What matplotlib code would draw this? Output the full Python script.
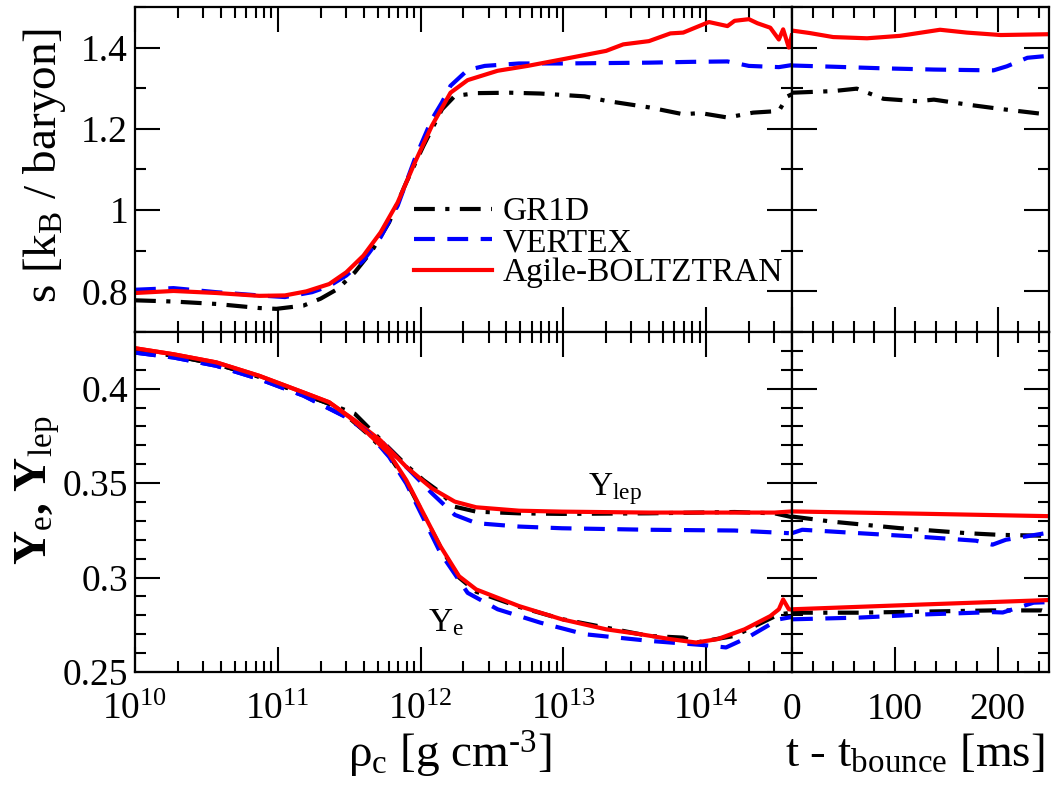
import numpy as np
import matplotlib
matplotlib.use("Agg")
import matplotlib.pyplot as plt
from matplotlib.ticker import LogLocator, MultipleLocator, FuncFormatter, NullFormatter

plt.rcParams['font.family'] = ['Liberation Serif', 'DejaVu Serif']
plt.rcParams['mathtext.fontset'] = 'custom'
plt.rcParams['mathtext.rm'] = 'Liberation Serif'
plt.rcParams['mathtext.it'] = 'Liberation Serif:italic'

# ---- entropy vs central density (log10 rho_c) ----
lrho_ab_s = [10.0, 10.27, 10.57, 10.87, 11.05, 11.2, 11.36, 11.48, 11.6, 11.72, 11.84, 11.96, 12.08, 12.21,
             12.33, 12.54, 12.75, 12.99, 13.3, 13.42, 13.6, 13.75, 13.84, 14.02, 14.15, 14.2, 14.3, 14.36,
             14.45, 14.51, 14.54, 14.58, 14.6]
s_ab = [0.796, 0.801, 0.796, 0.789, 0.790, 0.800, 0.818, 0.847, 0.888, 0.945, 1.019, 1.117, 1.208, 1.289,
        1.32, 1.343, 1.355, 1.371, 1.392, 1.408, 1.416, 1.435, 1.437, 1.463, 1.453, 1.466, 1.47, 1.46,
        1.449, 1.42, 1.445, 1.40, 1.43]
lrho_vx_s = [10.0, 10.27, 10.57, 10.87, 11.05, 11.24, 11.36, 11.48, 11.6, 11.72, 11.84, 11.96, 12.08, 12.15,
             12.21, 12.33, 12.45, 12.69, 12.99, 13.3, 13.6, 13.9, 14.15, 14.3, 14.51, 14.6]
s_vx = [0.804, 0.808, 0.798, 0.79, 0.786, 0.798, 0.813, 0.839, 0.876, 0.933, 1.011, 1.126, 1.224, 1.265,
        1.306, 1.345, 1.355, 1.361, 1.361, 1.362, 1.363, 1.365, 1.366, 1.355, 1.352, 1.357]
lrho_gr_s = [10.0, 10.27, 10.57, 10.87, 10.99, 11.18, 11.3, 11.42, 11.54, 11.66, 11.78, 11.9, 12.02, 12.15,
             12.24, 12.39, 12.63, 12.84, 13.15, 13.3, 13.6, 13.84, 13.96, 14.15, 14.33, 14.51, 14.57, 14.6]
s_gr = [0.778, 0.775, 0.769, 0.759, 0.757, 0.765, 0.782, 0.806, 0.847, 0.90, 0.97, 1.068, 1.158, 1.248,
        1.281, 1.288, 1.289, 1.287, 1.28, 1.269, 1.253, 1.236, 1.239, 1.228, 1.24, 1.244, 1.28, 1.285]

# ---- entropy after bounce ----
t_ab_s = [0, 17, 40, 73, 105, 144, 170, 203, 250]
s_ab_pb = [1.442, 1.436, 1.426, 1.423, 1.429, 1.444, 1.437, 1.431, 1.433]
t_vx_s = [0, 40, 89, 138, 196, 209, 229, 250]
s_vx_pb = [1.356, 1.353, 1.349, 1.346, 1.344, 1.354, 1.375, 1.380]
t_gr_s = [0, 40, 63, 89, 122, 138, 170, 203, 250]
s_gr_pb = [1.289, 1.293, 1.299, 1.274, 1.268, 1.272, 1.26, 1.249, 1.235]

# ---- Y_lep / Y_e vs central density ----
lrho_ab_yl = [10.0, 10.27, 10.57, 10.87, 11.18, 11.36, 11.54, 11.72, 11.9, 12.08, 12.24, 12.39, 12.69, 12.99,
              13.6, 14.2, 14.48, 14.6]
ylep_ab = [0.4214, 0.4182, 0.4139, 0.4068, 0.398, 0.3928, 0.3832, 0.3726, 0.3586, 0.3472, 0.3402, 0.3372,
           0.3354, 0.3349, 0.3344, 0.3344, 0.3344, 0.335]
lrho_gr_yl = [10.0, 10.27, 10.57, 10.87, 11.18, 11.36, 11.54, 11.72, 11.9, 12.02, 12.14, 12.24, 12.39, 12.69,
              12.99, 13.6, 14.2, 14.48, 14.6]
ylep_gr = [0.4204, 0.4175, 0.413, 0.4063, 0.397, 0.392, 0.3867, 0.373, 0.3595, 0.3516, 0.345, 0.3375, 0.3349,
           0.334, 0.3337, 0.334, 0.3347, 0.334, 0.332]
lrho_vx_yl = [10.0, 10.27, 10.57, 10.87, 11.18, 11.48, 11.72, 11.9, 12.08, 12.24, 12.39, 12.69, 12.99, 13.6,
              14.2, 14.58]
ylep_vx = [0.4191, 0.4165, 0.4121, 0.4051, 0.3963, 0.3849, 0.3726, 0.3586, 0.3446, 0.3332, 0.3288, 0.327,
           0.3261, 0.3253, 0.3249, 0.3235]

lrho_ab_ye = [10.0, 10.27, 10.57, 10.87, 11.18, 11.36, 11.5, 11.63, 11.78, 11.9, 12.02, 12.14, 12.27, 12.39,
              12.69, 12.99, 13.3, 13.54, 13.75, 13.93, 14.08, 14.27, 14.45, 14.51, 14.54, 14.58, 14.6]
ye_ab = [0.4214, 0.4182, 0.4139, 0.4068, 0.398, 0.3928, 0.385, 0.3765, 0.3656, 0.3516, 0.334, 0.3165, 0.3007,
         0.2937, 0.2849, 0.2779, 0.2726, 0.27, 0.2674, 0.2656, 0.2674, 0.2726, 0.2796, 0.2832, 0.2884, 0.2832,
         0.283]
lrho_gr_ye = [10.0, 10.27, 10.57, 10.87, 11.18, 11.36, 11.5, 11.63, 11.78, 11.9, 12.02, 12.14, 12.27, 12.39,
              12.69, 12.99, 13.3, 13.6, 13.84, 13.93, 14.2, 14.51, 14.6]
ye_gr = [0.4204, 0.4175, 0.413, 0.4063, 0.397, 0.392, 0.3845, 0.376, 0.3645, 0.351, 0.3335, 0.316, 0.3,
         0.2925, 0.2845, 0.278, 0.2735, 0.2691, 0.2682, 0.2656, 0.2691, 0.2805, 0.2814]
lrho_vx_ye = [10.0, 10.27, 10.57, 10.87, 11.18, 11.48, 11.63, 11.78, 11.9, 12.02, 12.14, 12.33, 12.54, 12.84,
              13.15, 13.6, 13.99, 14.14, 14.29, 14.51, 14.6]
ye_vx = [0.4191, 0.4165, 0.4121, 0.4051, 0.3963, 0.3849, 0.377, 0.3639, 0.3498, 0.3314, 0.313, 0.2919, 0.2832,
         0.2761, 0.27, 0.2665, 0.2642, 0.263, 0.2682, 0.2779, 0.2791]

# ---- Y_lep / Y_e after bounce ----
t_ab_yl = [0, 125, 250]
ylep_ab_pb = [0.335, 0.3338, 0.3325]
t_gr_yl = [0, 39, 104, 170, 202, 250]
ylep_gr_pb = [0.3323, 0.3296, 0.3262, 0.3235, 0.3226, 0.3221]
t_vx_yl = [0, 10, 65, 130, 179, 195, 208, 250]
ylep_vx_pb = [0.3235, 0.3253, 0.3235, 0.3214, 0.3195, 0.3174, 0.32, 0.3238]
t_ab_ye = [0, 125, 250]
ye_ab_pb = [0.2832, 0.2857, 0.2881]
t_gr_ye = [0, 65, 130, 195, 243, 250]
ye_gr_pb = [0.2814, 0.2814, 0.282, 0.2826, 0.2826, 0.2814]
t_vx_ye = [0, 65, 130, 195, 205, 235, 250]
ye_vx_pb = [0.2779, 0.2788, 0.2805, 0.2817, 0.2815, 0.2867, 0.287]

names = ['GR1D', 'VERTEX', 'Agile-BOLTZTRAN']

lw = 3.0
sty_gr = dict(color='black', lw=lw, dashes=(5, 2.5, 1, 2.5))
sty_vx = dict(color='#0000ff', lw=lw, dashes=(5, 3))
sty_ab = dict(color='#ff0000', lw=lw)

fig = plt.figure(figsize=(10.63, 7.86), dpi=100)
gs = fig.add_gridspec(2, 2, width_ratios=[657, 257], height_ratios=[325, 340],
                      left=135/1063, right=1049/1063, top=1-7/786, bottom=1-672/786,
                      wspace=0, hspace=0)
ax_s = fig.add_subplot(gs[0, 0])
ax_spb = fig.add_subplot(gs[0, 1])
ax_y = fig.add_subplot(gs[1, 0])
ax_ypb = fig.add_subplot(gs[1, 1])

def rho(l):
    return 10.0 ** np.asarray(l)

# top left
ax_s.plot(rho(lrho_gr_s), s_gr, label=names[0], **sty_gr)
ax_s.plot(rho(lrho_vx_s), s_vx, label=names[1], **sty_vx)
ax_s.plot(rho(lrho_ab_s), s_ab, label=names[2], **sty_ab)
# top right
ax_spb.plot(t_gr_s, s_gr_pb, **sty_gr)
ax_spb.plot(t_vx_s, s_vx_pb, **sty_vx)
ax_spb.plot(t_ab_s, s_ab_pb, **sty_ab)
# bottom left
ax_y.plot(rho(lrho_gr_yl), ylep_gr, **sty_gr)
ax_y.plot(rho(lrho_vx_yl), ylep_vx, **sty_vx)
ax_y.plot(rho(lrho_ab_yl), ylep_ab, **sty_ab)
ax_y.plot(rho(lrho_gr_ye), ye_gr, **sty_gr)
ax_y.plot(rho(lrho_vx_ye), ye_vx, **sty_vx)
ax_y.plot(rho(lrho_ab_ye), ye_ab, **sty_ab)
# bottom right
ax_ypb.plot(t_gr_yl, ylep_gr_pb, **sty_gr)
ax_ypb.plot(t_vx_yl, ylep_vx_pb, **sty_vx)
ax_ypb.plot(t_ab_yl, ylep_ab_pb, **sty_ab)
ax_ypb.plot(t_gr_ye, ye_gr_pb, **sty_gr)
ax_ypb.plot(t_vx_ye, ye_vx_pb, **sty_vx)
ax_ypb.plot(t_ab_ye, ye_ab_pb, **sty_ab)

for a in (ax_s, ax_y):
    a.set_xscale('log')
    a.set_xlim(1e10, 4e14)
    a.xaxis.set_major_locator(LogLocator(base=10, numticks=20))
    a.xaxis.set_minor_locator(LogLocator(base=10, subs=np.arange(2, 10), numticks=20))
    a.xaxis.set_minor_formatter(NullFormatter())
for a in (ax_spb, ax_ypb):
    a.set_xlim(0, 250)
    a.xaxis.set_major_locator(MultipleLocator(100))
    a.xaxis.set_minor_locator(MultipleLocator(20))
for a in (ax_s, ax_spb):
    a.set_ylim(0.7, 1.5)
    a.yaxis.set_major_locator(MultipleLocator(0.2))
    a.yaxis.set_minor_locator(MultipleLocator(0.1))
    a.tick_params(labelbottom=False)
for a in (ax_y, ax_ypb):
    a.set_ylim(0.25, 0.43)
    a.yaxis.set_major_locator(MultipleLocator(0.05))
    a.yaxis.set_minor_locator(MultipleLocator(0.01))
for a in (ax_spb, ax_ypb):
    a.tick_params(labelleft=False)

ax_y.xaxis.set_major_formatter(FuncFormatter(lambda v, p: '10$^{%d}$' % int(round(np.log10(v)))))
gfmt = FuncFormatter(lambda v, p: '%g' % round(v, 4))
ax_s.yaxis.set_major_formatter(gfmt)
ax_y.yaxis.set_major_formatter(gfmt)

for a in (ax_s, ax_spb, ax_y, ax_ypb):
    a.tick_params(which='both', direction='in', top=True, right=True, width=1.5, labelsize=27)
    a.tick_params(which='major', length=18)
    a.tick_params(which='minor', length=8)
    a.tick_params(axis='y', pad=5)
    a.tick_params(axis='x', pad=15)
    for sp in a.spines.values():
        sp.set_linewidth(1.6)

ax_s.legend(frameon=False, fontsize=24, loc='upper left', handlelength=2.35, handletextpad=0.3,
            labelspacing=0.0, borderpad=0, borderaxespad=0,
            bbox_to_anchor=(414/1063, 1-197/786), bbox_transform=fig.transFigure)

ax_y.text(1.48e13, 0.3437, 'Y$_\\mathrm{lep}$', fontsize=24, va='baseline')
ax_y.text(1.12e12, 0.2716, 'Y$_\\mathrm{e}$', fontsize=24, va='baseline')

fig.text(45/1063, 1-165/786, 's [k$_\\mathrm{B}$ / baryon]', rotation=90, fontsize=34, ha='center', va='center')
fig.text(38/1063, 1-490/786, 'Y$_\\mathrm{e}$, Y$_\\mathrm{lep}$', rotation=90, fontsize=34,
         ha='center', va='center', fontweight='bold')
fig.text(450/1063, 1-755/786, '\u03c1$_\\mathrm{c}$ [g cm$^{\u20103}$]', fontsize=34, ha='center', va='center')
fig.text(915/1063, 1-755/786, 't - t$_\\mathrm{bounce}$ [ms]', fontsize=34, ha='center', va='center')

fig.savefig('out.png', dpi=100)
